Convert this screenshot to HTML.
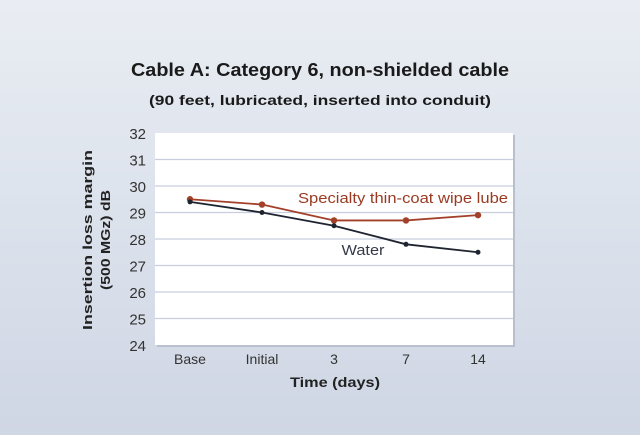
<!DOCTYPE html>
<html><head><meta charset="utf-8"><style>
html,body{margin:0;padding:0;width:640px;height:435px;overflow:hidden}
body{background:linear-gradient(180deg,#e9edf3 0%,#dce2ec 50%,#cfd6e4 100%);font-family:"Liberation Sans",sans-serif}
</style></head><body>
<svg id="chart" width="640" height="435" xmlns="http://www.w3.org/2000/svg" font-family="Liberation Sans, sans-serif">
<text x="320" y="76" text-anchor="middle" font-size="18" font-weight="bold" fill="#1a1a1a" textLength="378" lengthAdjust="spacingAndGlyphs">Cable A: Category 6, non-shielded cable</text>
<text x="320" y="105" text-anchor="middle" font-size="14" font-weight="bold" fill="#1a1a1a" textLength="342" lengthAdjust="spacingAndGlyphs">(90 feet, lubricated, inserted into conduit)</text>
<rect x="157" y="135" width="358" height="212" fill="#b8c0d0"/>
<rect x="155" y="133" width="358" height="212" fill="#fff"/>
<g id="grid"></g><g id="yticks"></g><g id="xticks"></g><g id="series"></g>
<text transform="translate(92,240) rotate(-90)" text-anchor="middle" font-size="13" font-weight="bold" fill="#222" textLength="180" lengthAdjust="spacingAndGlyphs">Insertion loss margin</text>
<text transform="translate(110,240) rotate(-90)" text-anchor="middle" font-size="13" font-weight="bold" fill="#222" textLength="100" lengthAdjust="spacingAndGlyphs">(500 MGz) dB</text>
<text x="335" y="387" text-anchor="middle" font-size="14" font-weight="bold" fill="#222" textLength="90" lengthAdjust="spacingAndGlyphs">Time (days)</text>
<text x="403" y="203" text-anchor="middle" font-size="15" fill="#9a3a22" textLength="210" lengthAdjust="spacingAndGlyphs">Specialty thin-coat wipe lube</text>
<text x="363" y="255" text-anchor="middle" font-size="15" fill="#333a48" textLength="43" lengthAdjust="spacingAndGlyphs">Water</text>
</svg>
<script>
const categories=["Base","Initial","3","7","14"];
const lubeValues=[29.5,29.3,28.7,28.7,28.9];
const waterValues=[29.4,29.0,28.5,27.8,27.5];
const yTicks=[24,25,26,27,28,29,30,31,32];
const NS="http://www.w3.org/2000/svg";
const yMin=24,yMax=32,plotTop=133,plotBot=345;
const yScale=v=>plotBot-(v-yMin)/(yMax-yMin)*(plotBot-plotTop);
const xScale=i=>190+i*72;
function mk(t,a,p){const e=document.createElementNS(NS,t);for(const k in a)e.setAttribute(k,a[k]);p.appendChild(e);return e;}
const grid=document.getElementById('grid'),yt=document.getElementById('yticks'),xt=document.getElementById('xticks'),ser=document.getElementById('series');
yTicks.forEach(v=>{
 if(v>yMin&&v<yMax){const l=mk('line',{x1:155,x2:513,y1:yScale(v),y2:yScale(v),stroke:'#c8cede','stroke-width':1.2},grid);
 
 }
 const t=mk('text',{x:146,y:yScale(v)+6,'text-anchor':'end','font-size':15,fill:'#333'},yt);t.textContent=v;
 
 
});
categories.forEach((c,i)=>{const t=mk('text',{x:xScale(i),y:364,'text-anchor':'middle','font-size':14,fill:'#333'},xt);t.textContent=c;
 
 });
function series(vals,color,name,r){
 const p=mk('polyline',{points:vals.map((v,i)=>xScale(i)+','+yScale(v)).join(' '),fill:'none',stroke:color,'stroke-width':1.8},ser);
 
 
 vals.forEach((v,i)=>{const c=mk('circle',{cx:xScale(i),cy:yScale(v),r:r,fill:color},ser);
 
 });
}
series(lubeValues,'#a3402a','lube',3.2);
series(waterValues,'#1e2430','water',2.5);
</script>
</body></html>
